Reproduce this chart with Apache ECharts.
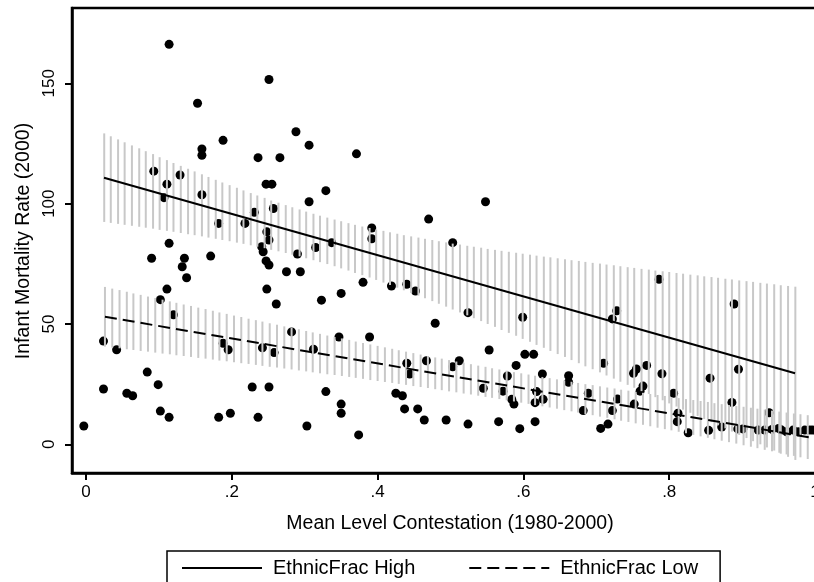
<!DOCTYPE html>
<html>
<head>
<meta charset="utf-8">
<script src="https://cdn.jsdelivr.net/npm/echarts@6/dist/echarts.min.js"></script>
<style>
  html, body { margin: 0; padding: 0; background: #fff; }
  #chart { width: 814px; height: 582px; }
</style>
</head>
<body>
<div id="chart"></div>
<script>
// Country observations: mean contestation (1980-2000) vs infant mortality (2000)
const contestation = [
  0.114, 0.251, 0.153, 0.188, 0.159, 0.159, 0.236, 0.266, 0.093, 0.129,
  0.111, 0.247, 0.255, 0.159, 0.107, 0.257, 0.231, 0.182, 0.218, 0.248,
  0.251, 0.241, 0.114, 0.090, 0.135, 0.132, 0.138, 0.171, 0.243, 0.247,
  0.251, 0.111, 0.102, 0.248, 0.261, 0.120, 0.024, 0.042, 0.188, 0.195,
  0.242, 0.258, 0.084, 0.024, 0.099, 0.056, 0.064, 0.228, 0.251, 0.102,
  0.114, 0.182, 0.198, 0.236, -0.003, 0.306, 0.329, 0.306, 0.315, 0.290,
  0.275, 0.294, 0.323, 0.288, 0.371, 0.548, 0.470, 0.392, 0.392, 0.503,
  0.337, 0.380, 0.419, 0.440, 0.452, 0.350, 0.524, 0.599, 0.479, 0.282,
  0.347, 0.389, 0.312, 0.553, 0.602, 0.614, 0.512, 0.503, 0.467, 0.440,
  0.444, 0.590, 0.578, 0.626, 0.329, 0.425, 0.434, 0.545, 0.572, 0.584,
  0.587, 0.618, 0.616, 0.627, 0.350, 0.350, 0.437, 0.455, 0.464, 0.494,
  0.524, 0.566, 0.595, 0.616, 0.303, 0.374, 0.786, 0.889, 0.728, 0.722,
  0.710, 0.769, 0.755, 0.751, 0.790, 0.895, 0.856, 0.662, 0.662, 0.764,
  0.760, 0.806, 0.689, 0.729, 0.886, 0.752, 0.682, 0.722, 0.812, 0.811,
  0.937, 0.706, 0.716, 0.826, 0.854, 0.872, 0.894, 0.901, 0.922, 0.931,
  0.941, 0.950, 0.954, 0.961, 0.970, 0.977, 0.986, 0.993, 0.997
];
const infantMortality = [
  166.2, 151.6, 141.7, 126.3, 122.7, 120.1, 119.1, 119.1, 113.5, 111.9,
  108.1, 108.1, 108.1, 103.7, 102.5, 98.0, 96.4, 91.8, 91.8, 88.3,
  84.9, 82.1, 83.5, 77.3, 77.3, 73.8, 69.2, 78.2, 80.0, 76.2,
  74.5, 64.5, 60.1, 64.5, 58.3, 53.8, 42.9, 39.3, 42.0, 39.3,
  40.1, 38.1, 30.0, 23.0, 24.8, 21.2, 20.2, 23.8, 23.8, 13.8,
  11.2, 11.2, 12.9, 11.2, 7.6, 124.3, 105.4, 100.8, 81.8, 79.1,
  71.7, 71.7, 59.9, 129.9, 120.7, 100.8, 93.6, 89.9, 85.4, 83.8,
  83.8, 67.3, 65.8, 66.5, 63.7, 62.7, 54.7, 52.8, 50.3, 46.7,
  44.6, 44.6, 39.5, 39.2, 37.4, 37.4, 34.7, 32.2, 34.7, 33.7,
  29.2, 32.8, 28.4, 29.2, 21.9, 21.2, 20.2, 23.3, 22.1, 18.7,
  16.7, 21.9, 17.3, 18.7, 16.7, 12.9, 14.7, 14.7, 10.1, 10.1,
  8.4, 9.4, 6.5, 9.4, 7.6, 3.9, 68.6, 58.3, 55.5, 52.1,
  33.7, 32.8, 31.3, 29.5, 29.3, 31.2, 27.5, 28.5, 25.8, 24.2,
  22.1, 21.2, 21.2, 18.8, 17.4, 16.7, 14.0, 14.0, 12.9, 9.4,
  13.1, 6.6, 8.4, 4.8, 5.8, 7.2, 6.4, 6.4, 5.9, 5.9,
  6.2, 6.6, 5.9, 5.2, 5.9, 5.2, 5.9, 5.9, 5.9
];

// Linear fits (endpoints) for each ethnic fractionalization group
const fitHighX = [0.0247, 0.9726];
const fitHighY = [110.8, 29.5];
const fitLowX = [0.026, 1.0];
const fitLowY = [53.0, 2.5];

// Confidence intervals of the fits: [x, lower, upper]
const ciHigh = [
  [0.025,92.4,129.2],[0.034,92.0,128.0],[0.044,91.6,126.7],[0.053,91.2,125.5],[0.063,90.8,124.2],
  [0.073,90.4,123.0],[0.082,90.0,121.8],[0.092,89.6,120.6],[0.101,89.1,119.3],[0.111,88.7,118.1],
  [0.120,88.3,116.9],[0.130,87.8,115.7],[0.140,87.3,114.5],[0.149,86.9,113.4],[0.159,86.4,112.2],
  [0.168,85.9,111.1],[0.178,85.4,109.9],[0.187,84.9,108.8],[0.197,84.4,107.7],[0.207,83.8,106.6],
  [0.216,83.3,105.5],[0.226,82.7,104.4],[0.235,82.1,103.4],[0.245,81.5,102.4],[0.254,80.8,101.3],
  [0.264,80.2,100.4],[0.274,79.5,99.4],[0.283,78.8,98.5],[0.293,78.1,97.6],[0.302,77.3,96.7],
  [0.312,76.5,95.8],[0.321,75.7,95.0],[0.331,74.9,94.2],[0.341,74.0,93.4],[0.350,73.1,92.7],
  [0.360,72.2,91.9],[0.369,71.2,91.2],[0.379,70.3,90.5],[0.389,69.3,89.9],[0.398,68.3,89.3],
  [0.408,67.2,88.7],[0.417,66.2,88.1],[0.427,65.1,87.5],[0.436,64.0,86.9],[0.446,62.9,86.4],
  [0.456,61.8,85.9],[0.465,60.7,85.4],[0.475,59.5,84.9],[0.484,58.4,84.4],[0.494,57.2,83.9],
  [0.503,56.0,83.4],[0.513,54.8,83.0],[0.523,53.6,82.5],[0.532,52.4,82.1],[0.542,51.2,81.7],
  [0.551,50.0,81.2],[0.561,48.8,80.8],[0.570,47.5,80.4],[0.580,46.3,80.0],[0.590,45.1,79.6],
  [0.599,43.8,79.2],[0.609,42.6,78.8],[0.618,41.3,78.4],[0.628,40.1,78.0],[0.637,38.8,77.7],
  [0.647,37.5,77.3],[0.657,36.3,76.9],[0.666,35.0,76.5],[0.676,33.7,76.2],[0.685,32.4,75.8],
  [0.695,31.2,75.4],[0.705,29.9,75.1],[0.714,28.6,74.7],[0.724,27.3,74.4],[0.733,26.0,74.0],
  [0.743,24.7,73.6],[0.752,23.5,73.3],[0.762,22.1,72.9],[0.772,20.9,72.6],[0.781,19.6,72.2],
  [0.791,18.3,71.9],[0.800,17.0,71.6],[0.810,15.7,71.2],[0.819,14.4,70.9],[0.829,13.1,70.5],
  [0.839,11.8,70.2],[0.848,10.5,69.8],[0.858,9.2,69.5],[0.867,7.9,69.2],[0.877,6.6,68.8],
  [0.886,5.3,68.5],[0.896,3.9,68.1],[0.906,2.6,67.8],[0.915,1.3,67.5],[0.925,0.0,67.1],
  [0.934,-1.3,66.8],[0.944,-2.6,66.5],[0.953,-3.9,66.1],[0.963,-5.2,65.8],[0.973,-6.5,65.5]
];
const ciLow = [
  [0.026,40.6,65.4],[0.036,40.2,64.7],[0.046,39.9,64.1],[0.056,39.5,63.4],[0.065,39.2,62.7],
  [0.075,38.8,62.1],[0.085,38.5,61.4],[0.095,38.1,60.8],[0.105,37.7,60.1],[0.115,37.4,59.4],
  [0.124,37.0,58.8],[0.134,36.7,58.1],[0.144,36.3,57.5],[0.154,35.9,56.8],[0.164,35.6,56.2],
  [0.174,35.2,55.5],[0.183,34.8,54.8],[0.193,34.5,54.2],[0.203,34.1,53.5],[0.213,33.7,52.9],
  [0.223,33.4,52.2],[0.233,33.0,51.6],[0.242,32.6,51.0],[0.252,32.2,50.3],[0.262,31.9,49.7],
  [0.272,31.5,49.0],[0.282,31.1,48.4],[0.292,30.7,47.8],[0.302,30.3,47.1],[0.311,29.9,46.5],
  [0.321,29.5,45.9],[0.331,29.1,45.2],[0.341,28.8,44.6],[0.351,28.4,44.0],[0.361,28.0,43.4],
  [0.370,27.6,42.7],[0.380,27.2,42.1],[0.390,26.7,41.5],[0.400,26.3,40.9],[0.410,25.9,40.3],
  [0.420,25.5,39.7],[0.429,25.1,39.1],[0.439,24.7,38.5],[0.449,24.2,37.9],[0.459,23.8,37.3],
  [0.469,23.4,36.7],[0.479,22.9,36.1],[0.488,22.5,35.6],[0.498,22.0,35.0],[0.508,21.6,34.4],
  [0.518,21.1,33.9],[0.528,20.7,33.3],[0.538,20.2,32.7],[0.548,19.7,32.2],[0.557,19.3,31.6],
  [0.567,18.8,31.1],[0.577,18.3,30.6],[0.587,17.8,30.0],[0.597,17.3,29.5],[0.607,16.8,29.0],
  [0.616,16.3,28.5],[0.626,15.8,28.0],[0.636,15.3,27.5],[0.646,14.8,27.0],[0.656,14.2,26.5],
  [0.666,13.7,26.0],[0.675,13.2,25.5],[0.685,12.6,25.0],[0.695,12.1,24.6],[0.705,11.5,24.1],
  [0.715,11.0,23.6],[0.725,10.4,23.2],[0.734,9.8,22.7],[0.744,9.3,22.3],[0.754,8.7,21.8],
  [0.764,8.1,21.4],[0.774,7.5,20.9],[0.784,6.9,20.5],[0.794,6.3,20.1],[0.803,5.8,19.6],
  [0.813,5.2,19.2],[0.823,4.6,18.8],[0.833,3.9,18.4],[0.843,3.3,18.0],[0.853,2.7,17.6],
  [0.862,2.1,17.1],[0.872,1.5,16.7],[0.882,0.9,16.3],[0.892,0.3,15.9],[0.902,-0.4,15.6],
  [0.912,-1.0,15.2],[0.921,-1.6,14.8],[0.931,-2.3,14.4],[0.941,-2.9,14.0],[0.951,-3.5,13.6],
  [0.961,-4.2,13.2],[0.971,-4.8,12.8],[0.980,-5.4,12.5],[0.990,-6.1,12.1],[1.000,-6.7,11.7]
];

// Axis ticks
const xTicks = [0, 0.2, 0.4, 0.6, 0.8, 1];
const xTickLabels = ['0', '.2', '.4', '.6', '.8', '1'];
const yTicks = [0, 50, 100, 150];
const yTickLabels = ['0', '50', '100', '150'];

const FONT = '"Liberation Sans", Arial, Helvetica, sans-serif';
const SPIKE_COLOR = '#c8c8c8';

function spikeRenderer(params, api) {
  const x = api.value(0);
  const lo = api.coord([x, api.value(1)]);
  const hi = api.coord([x, api.value(2)]);
  return {
    type: 'line',
    shape: { x1: lo[0], y1: lo[1], x2: hi[0], y2: hi[1] },
    style: { stroke: SPIKE_COLOR, lineWidth: 2 }
  };
}

function labelFor(values, labels) {
  return function (v) {
    for (let i = 0; i < values.length; i++) {
      if (Math.abs(values[i] - v) < 1e-9) return labels[i];
    }
    return '';
  };
}

const chart = echarts.init(document.getElementById('chart'), null, { renderer: 'canvas' });

chart.setOption({
  animation: false,
  backgroundColor: '#fff',
  grid: {
    left: 72, top: 8, width: 745, height: 465,
    outerBoundsMode: 'none', containLabel: false,
    show: true, borderColor: '#000', borderWidth: 2.5, backgroundColor: 'transparent'
  },
  xAxis: {
    type: 'value',
    min: -0.0192, max: 1.0027,
    splitLine: { show: false },
    axisLine: { show: true, onZero: false, lineStyle: { color: '#000', width: 2.5 } },
    axisTick: { show: true, length: 7, customValues: xTicks, lineStyle: { color: '#000', width: 2 } },
    axisLabel: {
      customValues: xTicks, formatter: labelFor(xTicks, xTickLabels),
      margin: 11, fontFamily: FONT, fontSize: 17, color: '#000', showMaxLabel: true, showMinLabel: true
    }
  },
  yAxis: {
    type: 'value',
    min: -11.92, max: 181.3,
    splitLine: { show: false },
    axisLine: { show: true, onZero: false, lineStyle: { color: '#000', width: 2.5 } },
    axisTick: { show: true, length: 7, customValues: yTicks, lineStyle: { color: '#000', width: 2 } },
    axisLabel: {
      customValues: yTicks, formatter: labelFor(yTicks, yTickLabels),
      rotate: 90, margin: 14, fontFamily: FONT, fontSize: 17, color: '#000'
    }
  },
  legend: {
    data: ['EthnicFrac High', 'EthnicFrac Low'],
    left: 167, top: 551,
    orient: 'horizontal',
    itemWidth: 80, itemHeight: 14, itemGap: 53,
    padding: [7, 22, 24, 14],
    borderColor: '#000', borderWidth: 1.5, borderRadius: 0,
    selectedMode: false,
    itemStyle: { opacity: 0 },
    lineStyle: { width: 2 },
    textStyle: { fontFamily: FONT, fontSize: 20, color: '#000', width: 142, padding: [0, 0, 0, 6] }
  },
  graphic: [
    {
      type: 'text', x: 450, y: 524,
      style: {
        text: 'Mean Level Contestation (1980-2000)', fill: '#000',
        font: '19.5px ' + FONT, textAlign: 'center', textVerticalAlign: 'middle'
      }
    },
    {
      type: 'text', x: 24, y: 241, rotation: Math.PI / 2,
      style: {
        text: 'Infant Mortality Rate (2000)', fill: '#000',
        font: '19.5px ' + FONT, textAlign: 'center', textVerticalAlign: 'middle'
      }
    }
  ],
  series: [
    {
      name: 'Countries', type: 'scatter', z: 2, silent: true,
      symbol: 'circle', symbolSize: 9,
      itemStyle: { color: '#000', opacity: 1 },
      data: contestation.map((x, i) => [x, infantMortality[i]])
    },
    {
      name: 'CI High', type: 'custom', z: 3, silent: true, clip: true,
      encode: { x: 0, y: [1, 2] },
      renderItem: spikeRenderer, data: ciHigh
    },
    {
      name: 'CI Low', type: 'custom', z: 3, silent: true, clip: true,
      encode: { x: 0, y: [1, 2] },
      renderItem: spikeRenderer, data: ciLow
    },
    {
      name: 'EthnicFrac High', type: 'line', z: 4, silent: true,
      symbol: 'none', showSymbol: false,
      lineStyle: { color: '#000', width: 2, type: 'solid' },
      itemStyle: { color: '#000' },
      data: fitHighX.map((x, i) => [x, fitHighY[i]])
    },
    {
      name: 'EthnicFrac Low', type: 'line', z: 4, silent: true,
      symbol: 'none', showSymbol: false,
      lineStyle: { color: '#000', width: 2, type: [12, 6] },
      itemStyle: { color: '#000' },
      data: fitLowX.map((x, i) => [x, fitLowY[i]])
    }
  ]
});
</script>
</body>
</html>
